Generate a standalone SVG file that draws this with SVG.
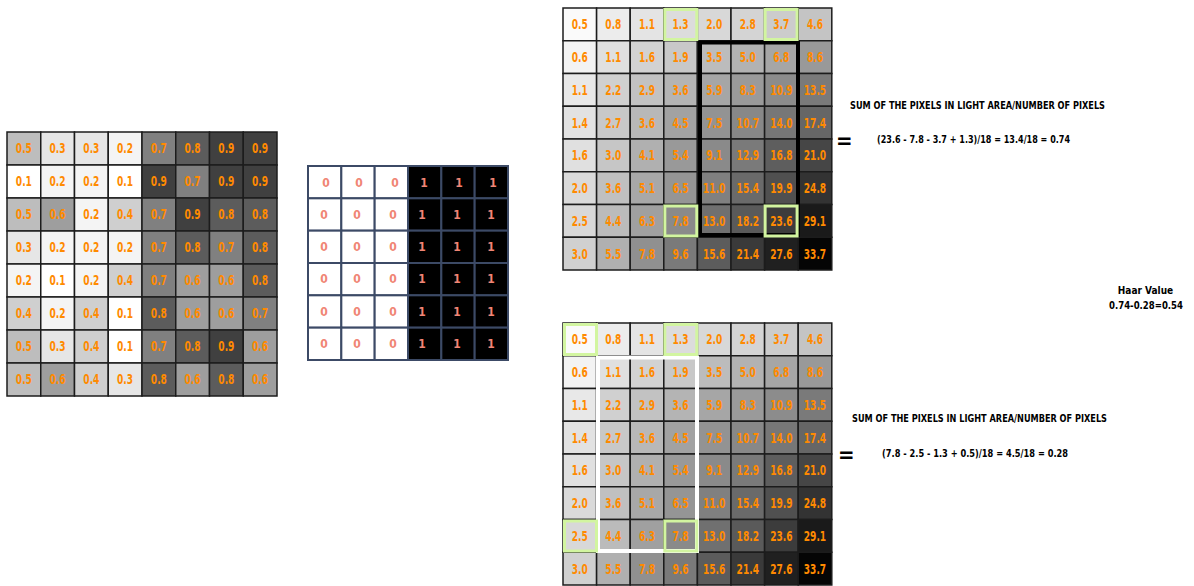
<svg xmlns="http://www.w3.org/2000/svg" width="1194" height="586" viewBox="0 0 1194 586">
<style>
text{font-family:"Liberation Sans Narrow","DejaVu Sans Condensed","Liberation Sans",sans-serif;font-weight:bold;font-stretch:condensed}
.n{fill:#ff8a00;font-size:14px;text-anchor:middle}
.z{fill:#f08575;font-size:12px;text-anchor:middle}
.c{stroke:#1c1c1c;stroke-width:1.5}
.m{stroke:#3c4a66;stroke-width:2}
.v1{fill:#ffffff}.v2{fill:#f4f4f4}.v3{fill:#e6e6e6}.v4{fill:#cfcfcf}.v5{fill:#bdbdbd}.v6{fill:#9e9e9e}.v7{fill:#808080}.v8{fill:#5c5c5c}.v9{fill:#404040}
.hl{fill:none;stroke:#d2f5a0;stroke-width:3}
.t{fill:#000;font-size:10px}
.eq{fill:#000;font-size:22px}
</style>
<defs>
<g id="cum">
<g class="c">
<rect x="0" y="0" width="33.6" height="32.75" fill="#fafafa"/><rect x="33.6" y="0" width="33.6" height="32.75" fill="#ececec"/><rect x="67.2" y="0" width="33.6" height="32.75" fill="#e4e4e4"/><rect x="100.8" y="0" width="33.6" height="32.75" fill="#dcdcdc"/><rect x="134.4" y="0" width="33.6" height="32.75" fill="#d8d8d8"/><rect x="168" y="0" width="33.6" height="32.75" fill="#d4d4d4"/><rect x="201.6" y="0" width="33.6" height="32.75" fill="#cccccc"/><rect x="235.2" y="0" width="33.6" height="32.75" fill="#c4c4c4"/>
<rect x="0" y="32.75" width="33.6" height="32.75" fill="#f3f3f3"/><rect x="33.6" y="32.75" width="33.6" height="32.75" fill="#e0e0e0"/><rect x="67.2" y="32.75" width="33.6" height="32.75" fill="#d2d2d2"/><rect x="100.8" y="32.75" width="33.6" height="32.75" fill="#c8c8c8"/><rect x="134.4" y="32.75" width="33.6" height="32.75" fill="#bcbcbc"/><rect x="168" y="32.75" width="33.6" height="32.75" fill="#b2b2b2"/><rect x="201.6" y="32.75" width="33.6" height="32.75" fill="#a6a6a6"/><rect x="235.2" y="32.75" width="33.6" height="32.75" fill="#999999"/>
<rect x="0" y="65.5" width="33.6" height="32.75" fill="#e8e8e8"/><rect x="33.6" y="65.5" width="33.6" height="32.75" fill="#d0d0d0"/><rect x="67.2" y="65.5" width="33.6" height="32.75" fill="#c2c2c2"/><rect x="100.8" y="65.5" width="33.6" height="32.75" fill="#b4b4b4"/><rect x="134.4" y="65.5" width="33.6" height="32.75" fill="#a6a6a6"/><rect x="168" y="65.5" width="33.6" height="32.75" fill="#9a9a9a"/><rect x="201.6" y="65.5" width="33.6" height="32.75" fill="#8c8c8c"/><rect x="235.2" y="65.5" width="33.6" height="32.75" fill="#7a7a7a"/>
<rect x="0" y="98.25" width="33.6" height="32.75" fill="#e2e2e2"/><rect x="33.6" y="98.25" width="33.6" height="32.75" fill="#c8c8c8"/><rect x="67.2" y="98.25" width="33.6" height="32.75" fill="#b8b8b8"/><rect x="100.8" y="98.25" width="33.6" height="32.75" fill="#a2a2a2"/><rect x="134.4" y="98.25" width="33.6" height="32.75" fill="#939393"/><rect x="168" y="98.25" width="33.6" height="32.75" fill="#888888"/><rect x="201.6" y="98.25" width="33.6" height="32.75" fill="#777777"/><rect x="235.2" y="98.25" width="33.6" height="32.75" fill="#666666"/>
<rect x="0" y="131" width="33.6" height="32.75" fill="#e0e0e0"/><rect x="33.6" y="131" width="33.6" height="32.75" fill="#c6c6c6"/><rect x="67.2" y="131" width="33.6" height="32.75" fill="#b0b0b0"/><rect x="100.8" y="131" width="33.6" height="32.75" fill="#999999"/><rect x="134.4" y="131" width="33.6" height="32.75" fill="#8a8a8a"/><rect x="168" y="131" width="33.6" height="32.75" fill="#7a7a7a"/><rect x="201.6" y="131" width="33.6" height="32.75" fill="#5e5e5e"/><rect x="235.2" y="131" width="33.6" height="32.75" fill="#464646"/>
<rect x="0" y="163.75" width="33.6" height="32.75" fill="#dadada"/><rect x="33.6" y="163.75" width="33.6" height="32.75" fill="#c0c0c0"/><rect x="67.2" y="163.75" width="33.6" height="32.75" fill="#a8a8a8"/><rect x="100.8" y="163.75" width="33.6" height="32.75" fill="#959595"/><rect x="134.4" y="163.75" width="33.6" height="32.75" fill="#808080"/><rect x="168" y="163.75" width="33.6" height="32.75" fill="#6a6a6a"/><rect x="201.6" y="163.75" width="33.6" height="32.75" fill="#505050"/><rect x="235.2" y="163.75" width="33.6" height="32.75" fill="#333333"/>
<rect x="0" y="196.5" width="33.6" height="32.75" fill="#d8d8d8"/><rect x="33.6" y="196.5" width="33.6" height="32.75" fill="#bbbbbb"/><rect x="67.2" y="196.5" width="33.6" height="32.75" fill="#a0a0a0"/><rect x="100.8" y="196.5" width="33.6" height="32.75" fill="#8a8a8a"/><rect x="134.4" y="196.5" width="33.6" height="32.75" fill="#707070"/><rect x="168" y="196.5" width="33.6" height="32.75" fill="#5a5a5a"/><rect x="201.6" y="196.5" width="33.6" height="32.75" fill="#3c3c3c"/><rect x="235.2" y="196.5" width="33.6" height="32.75" fill="#1a1a1a"/>
<rect x="0" y="229.25" width="33.6" height="32.75" fill="#d0d0d0"/><rect x="33.6" y="229.25" width="33.6" height="32.75" fill="#b0b0b0"/><rect x="67.2" y="229.25" width="33.6" height="32.75" fill="#909090"/><rect x="100.8" y="229.25" width="33.6" height="32.75" fill="#7a7a7a"/><rect x="134.4" y="229.25" width="33.6" height="32.75" fill="#5c5c5c"/><rect x="168" y="229.25" width="33.6" height="32.75" fill="#3a3a3a"/><rect x="201.6" y="229.25" width="33.6" height="32.75" fill="#202020"/><rect x="235.2" y="229.25" width="33.6" height="32.75" fill="#050505"/>
</g>
<g transform="scale(0.72 1)">
<text class="n" y="21.4"><tspan x="23.33">0.5</tspan><tspan x="70">0.8</tspan><tspan x="116.67">1.1</tspan><tspan x="163.33">1.3</tspan><tspan x="210">2.0</tspan><tspan x="256.67">2.8</tspan><tspan x="303.33">3.7</tspan><tspan x="350">4.6</tspan></text>
<text class="n" y="54.1"><tspan x="23.33">0.6</tspan><tspan x="70">1.1</tspan><tspan x="116.67">1.6</tspan><tspan x="163.33">1.9</tspan><tspan x="210">3.5</tspan><tspan x="256.67">5.0</tspan><tspan x="303.33">6.8</tspan><tspan x="350">8.6</tspan></text>
<text class="n" y="86.9"><tspan x="23.33">1.1</tspan><tspan x="70">2.2</tspan><tspan x="116.67">2.9</tspan><tspan x="163.33">3.6</tspan><tspan x="210">5.9</tspan><tspan x="256.67">8.3</tspan><tspan x="303.33">10.9</tspan><tspan x="350">13.5</tspan></text>
<text class="n" y="119.6"><tspan x="23.33">1.4</tspan><tspan x="70">2.7</tspan><tspan x="116.67">3.6</tspan><tspan x="163.33">4.5</tspan><tspan x="210">7.5</tspan><tspan x="256.67">10.7</tspan><tspan x="303.33">14.0</tspan><tspan x="350">17.4</tspan></text>
<text class="n" y="152.4"><tspan x="23.33">1.6</tspan><tspan x="70">3.0</tspan><tspan x="116.67">4.1</tspan><tspan x="163.33">5.4</tspan><tspan x="210">9.1</tspan><tspan x="256.67">12.9</tspan><tspan x="303.33">16.8</tspan><tspan x="350">21.0</tspan></text>
<text class="n" y="185.1"><tspan x="23.33">2.0</tspan><tspan x="70">3.6</tspan><tspan x="116.67">5.1</tspan><tspan x="163.33">6.5</tspan><tspan x="210">11.0</tspan><tspan x="256.67">15.4</tspan><tspan x="303.33">19.9</tspan><tspan x="350">24.8</tspan></text>
<text class="n" y="217.9"><tspan x="23.33">2.5</tspan><tspan x="70">4.4</tspan><tspan x="116.67">6.3</tspan><tspan x="163.33">7.8</tspan><tspan x="210">13.0</tspan><tspan x="256.67">18.2</tspan><tspan x="303.33">23.6</tspan><tspan x="350">29.1</tspan></text>
<text class="n" y="250.6"><tspan x="23.33">3.0</tspan><tspan x="70">5.5</tspan><tspan x="116.67">7.8</tspan><tspan x="163.33">9.6</tspan><tspan x="210">15.6</tspan><tspan x="256.67">21.4</tspan><tspan x="303.33">27.6</tspan><tspan x="350">33.7</tspan></text>
</g>
</g>
</defs>
<rect width="1194" height="586" fill="#ffffff"/>

<g id="input-image">
<g class="c">
<rect x="7" y="132" width="33.75" height="33" class="v5"/><rect x="40.75" y="132" width="33.75" height="33" class="v3"/><rect x="74.5" y="132" width="33.75" height="33" class="v3"/><rect x="108.25" y="132" width="33.75" height="33" class="v2"/><rect x="142" y="132" width="33.75" height="33" class="v7"/><rect x="175.75" y="132" width="33.75" height="33" class="v8"/><rect x="209.5" y="132" width="33.75" height="33" class="v9"/><rect x="243.25" y="132" width="33.75" height="33" class="v9"/>
<rect x="7" y="165" width="33.75" height="33" class="v1"/><rect x="40.75" y="165" width="33.75" height="33" class="v2"/><rect x="74.5" y="165" width="33.75" height="33" class="v2"/><rect x="108.25" y="165" width="33.75" height="33" class="v1"/><rect x="142" y="165" width="33.75" height="33" class="v9"/><rect x="175.75" y="165" width="33.75" height="33" class="v7"/><rect x="209.5" y="165" width="33.75" height="33" class="v9"/><rect x="243.25" y="165" width="33.75" height="33" class="v9"/>
<rect x="7" y="198" width="33.75" height="33" class="v5"/><rect x="40.75" y="198" width="33.75" height="33" class="v6"/><rect x="74.5" y="198" width="33.75" height="33" class="v2"/><rect x="108.25" y="198" width="33.75" height="33" class="v4"/><rect x="142" y="198" width="33.75" height="33" class="v7"/><rect x="175.75" y="198" width="33.75" height="33" class="v9"/><rect x="209.5" y="198" width="33.75" height="33" class="v8"/><rect x="243.25" y="198" width="33.75" height="33" class="v8"/>
<rect x="7" y="231" width="33.75" height="33" class="v3"/><rect x="40.75" y="231" width="33.75" height="33" class="v2"/><rect x="74.5" y="231" width="33.75" height="33" class="v2"/><rect x="108.25" y="231" width="33.75" height="33" class="v2"/><rect x="142" y="231" width="33.75" height="33" class="v7"/><rect x="175.75" y="231" width="33.75" height="33" class="v8"/><rect x="209.5" y="231" width="33.75" height="33" class="v7"/><rect x="243.25" y="231" width="33.75" height="33" class="v8"/>
<rect x="7" y="264" width="33.75" height="33" class="v2"/><rect x="40.75" y="264" width="33.75" height="33" class="v1"/><rect x="74.5" y="264" width="33.75" height="33" class="v2"/><rect x="108.25" y="264" width="33.75" height="33" class="v4"/><rect x="142" y="264" width="33.75" height="33" class="v7"/><rect x="175.75" y="264" width="33.75" height="33" class="v6"/><rect x="209.5" y="264" width="33.75" height="33" class="v6"/><rect x="243.25" y="264" width="33.75" height="33" class="v8"/>
<rect x="7" y="297" width="33.75" height="33" class="v4"/><rect x="40.75" y="297" width="33.75" height="33" class="v2"/><rect x="74.5" y="297" width="33.75" height="33" class="v4"/><rect x="108.25" y="297" width="33.75" height="33" class="v1"/><rect x="142" y="297" width="33.75" height="33" class="v8"/><rect x="175.75" y="297" width="33.75" height="33" class="v6"/><rect x="209.5" y="297" width="33.75" height="33" class="v6"/><rect x="243.25" y="297" width="33.75" height="33" class="v7"/>
<rect x="7" y="330" width="33.75" height="33" class="v5"/><rect x="40.75" y="330" width="33.75" height="33" class="v3"/><rect x="74.5" y="330" width="33.75" height="33" class="v4"/><rect x="108.25" y="330" width="33.75" height="33" class="v1"/><rect x="142" y="330" width="33.75" height="33" class="v7"/><rect x="175.75" y="330" width="33.75" height="33" class="v8"/><rect x="209.5" y="330" width="33.75" height="33" class="v9"/><rect x="243.25" y="330" width="33.75" height="33" class="v6"/>
<rect x="7" y="363" width="33.75" height="33" class="v5"/><rect x="40.75" y="363" width="33.75" height="33" class="v6"/><rect x="74.5" y="363" width="33.75" height="33" class="v4"/><rect x="108.25" y="363" width="33.75" height="33" class="v3"/><rect x="142" y="363" width="33.75" height="33" class="v8"/><rect x="175.75" y="363" width="33.75" height="33" class="v6"/><rect x="209.5" y="363" width="33.75" height="33" class="v8"/><rect x="243.25" y="363" width="33.75" height="33" class="v6"/>
</g>
<g transform="scale(0.72 1)">
<text class="n" y="153.5"><tspan x="33.2">0.5</tspan><tspan x="80">0.3</tspan><tspan x="126.9">0.3</tspan><tspan x="173.75">0.2</tspan><tspan x="220.7">0.7</tspan><tspan x="267.5">0.8</tspan><tspan x="314.4">0.9</tspan><tspan x="361.25">0.9</tspan></text>
<text class="n" y="186.5"><tspan x="33.2">0.1</tspan><tspan x="80">0.2</tspan><tspan x="126.9">0.2</tspan><tspan x="173.75">0.1</tspan><tspan x="220.7">0.9</tspan><tspan x="267.5">0.7</tspan><tspan x="314.4">0.9</tspan><tspan x="361.25">0.9</tspan></text>
<text class="n" y="219.5"><tspan x="33.2">0.5</tspan><tspan x="80">0.6</tspan><tspan x="126.9">0.2</tspan><tspan x="173.75">0.4</tspan><tspan x="220.7">0.7</tspan><tspan x="267.5">0.9</tspan><tspan x="314.4">0.8</tspan><tspan x="361.25">0.8</tspan></text>
<text class="n" y="252.5"><tspan x="33.2">0.3</tspan><tspan x="80">0.2</tspan><tspan x="126.9">0.2</tspan><tspan x="173.75">0.2</tspan><tspan x="220.7">0.7</tspan><tspan x="267.5">0.8</tspan><tspan x="314.4">0.7</tspan><tspan x="361.25">0.8</tspan></text>
<text class="n" y="285.5"><tspan x="33.2">0.2</tspan><tspan x="80">0.1</tspan><tspan x="126.9">0.2</tspan><tspan x="173.75">0.4</tspan><tspan x="220.7">0.7</tspan><tspan x="267.5">0.6</tspan><tspan x="314.4">0.6</tspan><tspan x="361.25">0.8</tspan></text>
<text class="n" y="318.5"><tspan x="33.2">0.4</tspan><tspan x="80">0.2</tspan><tspan x="126.9">0.4</tspan><tspan x="173.75">0.1</tspan><tspan x="220.7">0.8</tspan><tspan x="267.5">0.6</tspan><tspan x="314.4">0.6</tspan><tspan x="361.25">0.7</tspan></text>
<text class="n" y="351.5"><tspan x="33.2">0.5</tspan><tspan x="80">0.3</tspan><tspan x="126.9">0.4</tspan><tspan x="173.75">0.1</tspan><tspan x="220.7">0.7</tspan><tspan x="267.5">0.8</tspan><tspan x="314.4">0.9</tspan><tspan x="361.25">0.6</tspan></text>
<text class="n" y="384.5"><tspan x="33.2">0.5</tspan><tspan x="80">0.6</tspan><tspan x="126.9">0.4</tspan><tspan x="173.75">0.3</tspan><tspan x="220.7">0.8</tspan><tspan x="267.5">0.6</tspan><tspan x="314.4">0.8</tspan><tspan x="361.25">0.6</tspan></text>
</g>
</g>

<g id="haar-feature">
<g class="m">
<rect x="308" y="166" width="33.33" height="32.33" fill="#fff"/><rect x="341.33" y="166" width="33.33" height="32.33" fill="#fff"/><rect x="374.67" y="166" width="33.33" height="32.33" fill="#fff"/><rect x="408" y="166" width="33.33" height="32.33" fill="#000"/><rect x="441.33" y="166" width="33.33" height="32.33" fill="#000"/><rect x="474.67" y="166" width="33.33" height="32.33" fill="#000"/>
<rect x="308" y="198.33" width="33.33" height="32.33" fill="#fff"/><rect x="341.33" y="198.33" width="33.33" height="32.33" fill="#fff"/><rect x="374.67" y="198.33" width="33.33" height="32.33" fill="#fff"/><rect x="408" y="198.33" width="33.33" height="32.33" fill="#000"/><rect x="441.33" y="198.33" width="33.33" height="32.33" fill="#000"/><rect x="474.67" y="198.33" width="33.33" height="32.33" fill="#000"/>
<rect x="308" y="230.67" width="33.33" height="32.33" fill="#fff"/><rect x="341.33" y="230.67" width="33.33" height="32.33" fill="#fff"/><rect x="374.67" y="230.67" width="33.33" height="32.33" fill="#fff"/><rect x="408" y="230.67" width="33.33" height="32.33" fill="#000"/><rect x="441.33" y="230.67" width="33.33" height="32.33" fill="#000"/><rect x="474.67" y="230.67" width="33.33" height="32.33" fill="#000"/>
<rect x="308" y="263" width="33.33" height="32.33" fill="#fff"/><rect x="341.33" y="263" width="33.33" height="32.33" fill="#fff"/><rect x="374.67" y="263" width="33.33" height="32.33" fill="#fff"/><rect x="408" y="263" width="33.33" height="32.33" fill="#000"/><rect x="441.33" y="263" width="33.33" height="32.33" fill="#000"/><rect x="474.67" y="263" width="33.33" height="32.33" fill="#000"/>
<rect x="308" y="295.33" width="33.33" height="32.33" fill="#fff"/><rect x="341.33" y="295.33" width="33.33" height="32.33" fill="#fff"/><rect x="374.67" y="295.33" width="33.33" height="32.33" fill="#fff"/><rect x="408" y="295.33" width="33.33" height="32.33" fill="#000"/><rect x="441.33" y="295.33" width="33.33" height="32.33" fill="#000"/><rect x="474.67" y="295.33" width="33.33" height="32.33" fill="#000"/>
<rect x="308" y="327.67" width="33.33" height="32.33" fill="#fff"/><rect x="341.33" y="327.67" width="33.33" height="32.33" fill="#fff"/><rect x="374.67" y="327.67" width="33.33" height="32.33" fill="#fff"/><rect x="408" y="327.67" width="33.33" height="32.33" fill="#000"/><rect x="441.33" y="327.67" width="33.33" height="32.33" fill="#000"/><rect x="474.67" y="327.67" width="33.33" height="32.33" fill="#000"/>
</g>
<text class="z" y="186.5"><tspan x="326">0</tspan><tspan x="359">0</tspan><tspan x="395">0</tspan><tspan x="424">1</tspan><tspan x="459">1</tspan><tspan x="493">1</tspan></text>
<text class="z" y="218.8"><tspan x="324">0</tspan><tspan x="357">0</tspan><tspan x="393">0</tspan><tspan x="422">1</tspan><tspan x="457">1</tspan><tspan x="491">1</tspan></text>
<text class="z" y="251.1"><tspan x="324">0</tspan><tspan x="357">0</tspan><tspan x="393">0</tspan><tspan x="422">1</tspan><tspan x="457">1</tspan><tspan x="491">1</tspan></text>
<text class="z" y="283.4"><tspan x="324">0</tspan><tspan x="357">0</tspan><tspan x="393">0</tspan><tspan x="422">1</tspan><tspan x="457">1</tspan><tspan x="491">1</tspan></text>
<text class="z" y="315.7"><tspan x="324">0</tspan><tspan x="357">0</tspan><tspan x="393">0</tspan><tspan x="422">1</tspan><tspan x="457">1</tspan><tspan x="491">1</tspan></text>
<text class="z" y="348"><tspan x="324">0</tspan><tspan x="357">0</tspan><tspan x="393">0</tspan><tspan x="422">1</tspan><tspan x="457">1</tspan><tspan x="491">1</tspan></text>
</g>

<g id="integral-dark">
<use href="#cum" x="563" y="8"/>
<rect x="700" y="42.5" width="98" height="192.5" fill="none" stroke="#000" stroke-width="4"/>
<rect x="664.8" y="9.5" width="32" height="30" class="hl"/>
<rect x="765.1" y="9.5" width="32" height="30" class="hl"/>
<rect x="664.8" y="206" width="32" height="30" class="hl"/>
<rect x="765.1" y="206" width="32" height="30" class="hl"/>
</g>

<g id="integral-light">
<use href="#cum" x="563" y="323"/>
<rect x="598" y="357.5" width="99" height="193.5" fill="none" stroke="#fff" stroke-width="4"/>
<rect x="564.5" y="324.5" width="32" height="30" class="hl"/>
<rect x="664.8" y="324.5" width="32" height="30" class="hl"/>
<rect x="564.5" y="521" width="32" height="30" class="hl"/>
<rect x="664.8" y="521" width="32" height="30" class="hl"/>
</g>

<g id="dark-formula">
<text class="t" x="850" y="109" textLength="255" lengthAdjust="spacingAndGlyphs">SUM OF THE PIXELS IN LIGHT AREA/NUMBER OF PIXELS</text>
<text class="eq" x="836" y="148">=</text>
<text class="t" x="877" y="143" textLength="193" lengthAdjust="spacingAndGlyphs">(23.6 - 7.8 - 3.7 + 1.3)/18 = 13.4/18 = 0.74</text>
</g>

<g id="light-formula">
<text class="t" x="852" y="422" textLength="255" lengthAdjust="spacingAndGlyphs">SUM OF THE PIXELS IN LIGHT AREA/NUMBER OF PIXELS</text>
<text class="eq" x="838" y="462">=</text>
<text class="t" x="882" y="457" textLength="186" lengthAdjust="spacingAndGlyphs">(7.8 - 2.5 - 1.3 + 0.5)/18 = 4.5/18 = 0.28</text>
</g>

<g id="haar-value">
<text class="t" x="1145.5" y="294" text-anchor="middle">Haar Value</text>
<text class="t" x="1146" y="309" text-anchor="middle" textLength="74" lengthAdjust="spacingAndGlyphs">0.74-0.28=0.54</text>
</g>
</svg>
